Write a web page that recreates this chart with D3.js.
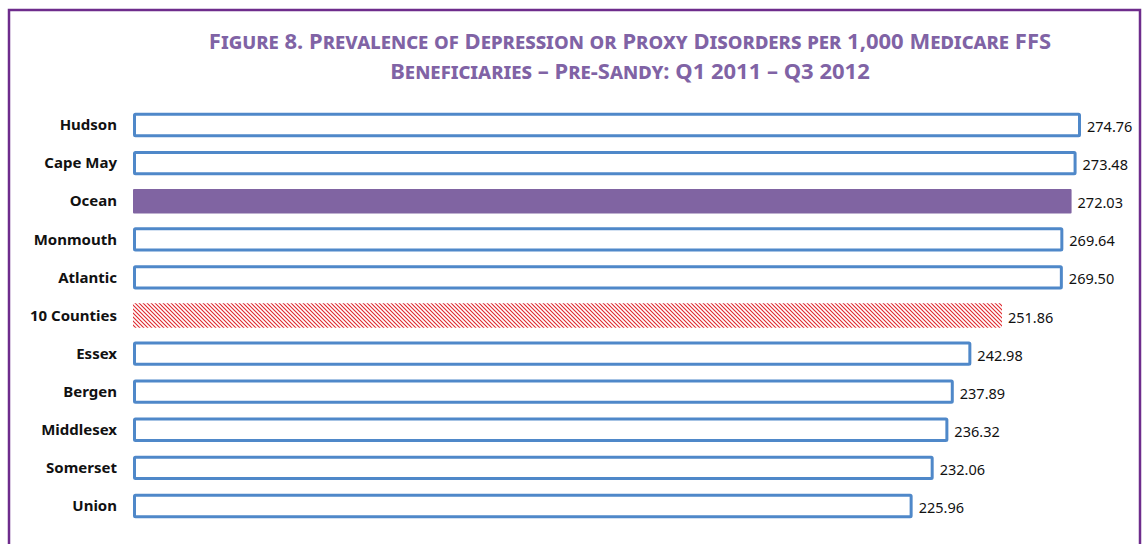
<!DOCTYPE html>
<meta charset="utf-8">
<style>
  body { margin: 0; background: #fff; }
  svg text { font-family: 'Noto Sans', 'Open Sans', sans-serif; }
</style>
<body>
<div id="chart"></div>
<script src="https://d3js.org/d3.v7.min.js"></script>
<script>
// data
var counties = ["Hudson", "Cape May", "Ocean", "Monmouth", "Atlantic", "10 Counties",
                "Essex", "Bergen", "Middlesex", "Somerset", "Union"];
var rates = [274.76, 273.48, 272.03, 269.64, 269.50, 251.86,
             242.98, 237.89, 236.32, 232.06, 225.96];
var titleLines = ["Figure 8. Prevalence of Depression or Proxy Disorders per 1,000 Medicare FFS",
                  "Beneficiaries \u2013 Pre-Sandy: Q1 2011 \u2013 Q3 2012"];

var W = 1142, H = 544;
var svg = d3.select("#chart").append("svg")
    .attr("width", W).attr("height", H);

// hatch pattern for the 10 county average
var defs = svg.append("defs");
var pat = defs.append("pattern")
    .attr("id", "hatch")
    .attr("patternUnits", "userSpaceOnUse")
    .attr("width", 4).attr("height", 4);
pat.append("rect").attr("width", 4).attr("height", 4).attr("fill", "#fff");
pat.append("path")
    .attr("d", "M-1,-1 L5,5 M-1,3 L1,5 M3,-1 L5,1")
    .attr("stroke", "#e0282e").attr("stroke-width", 1.1);

// frame
svg.append("path")
    .attr("d", "M9," + (H + 5) + " V10 H1140 V" + (H + 5))
    .attr("fill", "none").attr("stroke", "#6e2c8c").attr("stroke-width", 2.5);

// title
svg.append("g").selectAll("text")
  .data(titleLines)
  .join("text")
    .attr("x", 630)
    .attr("y", function(d, i) { return 49 + i * 30; })
    .attr("text-anchor", "middle")
    .style("font-variant", "small-caps")
    .style("font-weight", "bold")
    .style("font-size", "22px")
    .attr("fill", "#8063a5")
    .text(function(d) { return d; });

// scales
var x = d3.scaleLinear().domain([0, 274.76]).range([133, 1081]);
var y = d3.scaleBand().domain(counties).range([106, 525]).paddingInner(0.36).paddingOuter(0.18);

function fillFor(d) {
  if (d === "Ocean") return "#8064a2";
  if (d === "10 Counties") return "url(#hatch)";
  return "#fff";
}
function strokeFor(d) {
  return (d === "Ocean" || d === "10 Counties") ? "none" : "#4f88c9";
}

var rows = svg.append("g").selectAll("g")
  .data(counties)
  .join("g");

rows.append("rect")
    .attr("x", function(d) { return strokeFor(d) === "none" ? x(0) : x(0) + 1.5; })
    .attr("y", function(d) { return strokeFor(d) === "none" ? y(d) : y(d) + 1.5; })
    .attr("width", function(d, i) { return x(rates[i]) - x(0) - (strokeFor(d) === "none" ? 0 : 3); })
    .attr("height", function(d) { return y.bandwidth() - (strokeFor(d) === "none" ? 0 : 3); })
    .attr("rx", 1)
    .attr("fill", fillFor)
    .attr("stroke", strokeFor)
    .attr("stroke-width", 3);

// category labels
rows.append("text")
    .attr("x", 117)
    .attr("y", function(d) { return y(d) + y.bandwidth() / 2; })
    .attr("dy", "0.35em")
    .attr("text-anchor", "end")
    .style("font-weight", "bold")
    .style("font-size", "15px")
    .attr("fill", "#111")
    .text(function(d) { return d; });

// value labels
rows.append("text")
    .attr("x", function(d, i) { return x(rates[i]) + 6; })
    .attr("y", function(d) { return y(d) + y.bandwidth() / 2 + 2; })
    .attr("dy", "0.35em")
    .style("font-size", "14.5px")
    .attr("fill", "#111")
    .text(function(d, i) { return rates[i].toFixed(2); });
</script>
</body>
